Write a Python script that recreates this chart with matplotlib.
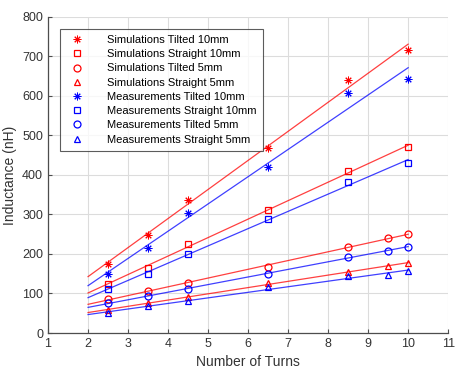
import numpy as np
import matplotlib
matplotlib.use("Agg")
import matplotlib.pyplot as plt

plt.rcParams['font.family'] = ['Liberation Sans', 'DejaVu Sans']

x6 = [2.5, 3.5, 4.5, 6.5, 8.5, 10]
x7 = [2.5, 3.5, 4.5, 6.5, 8.5, 9.5, 10]

sim_tilted10 = [175, 248, 337, 467, 641, 716]
sim_straight10 = [125, 165, 224, 311, 411, 470]
sim_tilted5 = [85, 107, 127, 168, 218, 240, 250]
sim_straight5 = [58, 75, 92, 126, 155, 170, 176]
meas_tilted10 = [149, 216, 303, 421, 607, 643]
meas_straight10 = [111, 150, 201, 288, 383, 430]
meas_tilted5 = [75, 94, 112, 150, 193, 208, 218]
meas_straight5 = [50, 68, 82, 116, 143, 147, 157]

labels = ['Simulations Tilted 10mm', 'Simulations Straight 10mm',
          'Simulations Tilted 5mm', 'Simulations Straight 5mm',
          'Measurements Tilted 10mm', 'Measurements Straight 10mm',
          'Measurements Tilted 5mm', 'Measurements Straight 5mm']

series = [
    (x6, sim_tilted10, 'red', '*'),
    (x6, sim_straight10, 'red', 's'),
    (x7, sim_tilted5, 'red', 'o'),
    (x7, sim_straight5, 'red', '^'),
    (x6, meas_tilted10, 'blue', '*'),
    (x6, meas_straight10, 'blue', 's'),
    (x7, meas_tilted5, 'blue', 'o'),
    (x7, meas_straight5, 'blue', '^'),
]

fig = plt.figure(figsize=(4.62, 3.75), dpi=100)
ax = fig.add_axes([0.104, 0.112, 0.866, 0.843])

handles = []
for (xs, ys, c, m), lab in zip(series, labels):
    if m == '*':
        h, = ax.plot(xs, ys, linestyle='none', marker=(8, 2, 0), color=c, markersize=5.5,
                     markeredgewidth=0.7, label=lab)
    else:
        ms = 4.5 if m == 's' else 5
        h, = ax.plot(xs, ys, linestyle='none', marker=m, markerfacecolor='none',
                     markeredgecolor=c, markersize=ms, markeredgewidth=0.9, label=lab)
    handles.append(h)
    p = np.polyfit(xs, ys, 1)
    xf = np.array([2, 10])
    ax.plot(xf, np.polyval(p, xf), color=c, linewidth=0.9, alpha=0.75)

ax.set_xlim(1, 11)
ax.set_ylim(0, 800)
ax.set_xticks(range(1, 12))
ax.set_yticks(range(0, 801, 100))
ax.grid(True, color='#dcdcdc', linewidth=0.8)
ax.set_axisbelow(True)
for s in ['top', 'right']:
    ax.spines[s].set_visible(False)
for s in ['left', 'bottom']:
    ax.spines[s].set_color('#4d4d4d')
    ax.spines[s].set_linewidth(0.9)
ax.tick_params(direction='in', colors='#4d4d4d', labelsize=9, length=3, labelcolor='#333333')
ax.set_xlabel('Number of Turns', fontsize=10, color='#333333')
ax.set_ylabel('Inductance (nH)', fontsize=10, color='#333333')

leg = ax.legend(handles=handles, loc='upper left', bbox_to_anchor=(0.03, 0.962),
                borderaxespad=0, fontsize=8, frameon=True, fancybox=False,
                edgecolor='#333333', handletextpad=1.7, labelspacing=0.38,
                borderpad=0.55, handlelength=2.0)
leg.get_frame().set_linewidth(0.8)

fig.savefig('out.png', dpi=100)
